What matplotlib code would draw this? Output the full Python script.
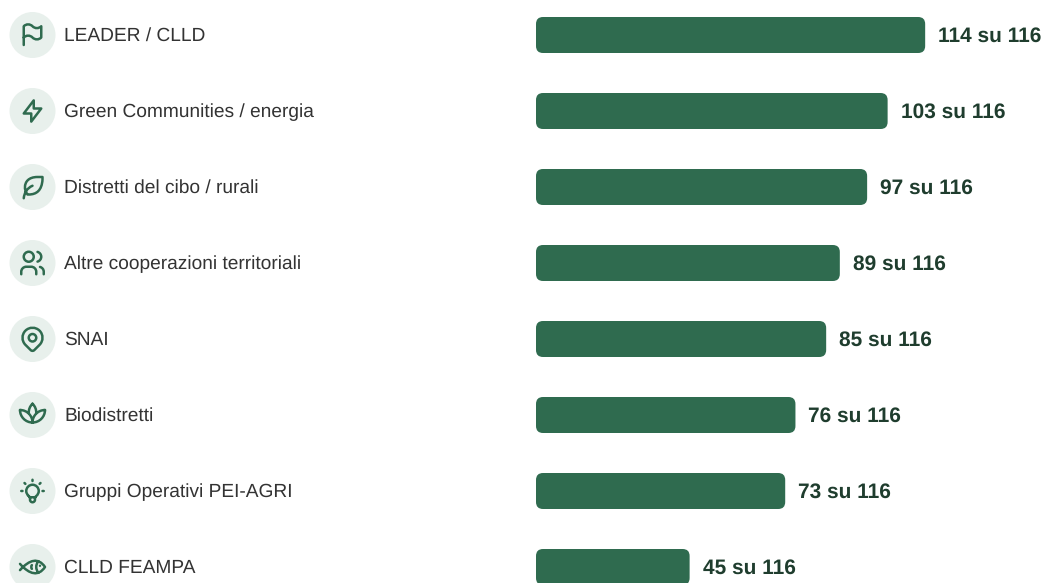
import re
import matplotlib
matplotlib.use("Agg")
import matplotlib.pyplot as plt
from matplotlib.patches import Circle, FancyBboxPatch, PathPatch
from matplotlib.path import Path
from matplotlib.transforms import Affine2D

plt.rcParams["font.family"] = ["Liberation Sans", "DejaVu Sans"]
plt.rcParams["text.hinting"] = "none"

labels = ["LEADER / CLLD", "Green Communities / energia", "Distretti del cibo / rurali",
          "Altre cooperazioni territoriali", "SNAI", "Biodistretti",
          "Gruppi Operativi PEI-AGRI", "CLLD FEAMPA"]
values = [114, 103, 97, 89, 85, 76, 73, 45]
total = 116

GREEN = "#2f6b4f"
PALE = "#e8f0ec"

W, H = 1043, 583
ROW0, STEP = 35, 76
PX = 72 / 100  # pixels to points
ICON_SCALE = 1.25

# icons as svg-like strings on a 24 box (M, L, C, Z only)
icons = [
    "M5 5 C7 3 10 3 12 5 C14 7 17 7 19 5 L19 14 C17 16 14 16 12 14 C10 12 7 12 5 14 L5 5 Z M5 20 L5 14",
    "M13 3.5 L13 10 L19 10 L11 20.5 L11 14 L5 14 L13 3.5 Z",
    "M5 21 C5.5 16.5 7.5 13 12 11 "
    "M9 18 C15.218 18 19.5 14.712 20 6 L20 4 L15.986 4 C8.786 4 6 8 5.986 12 C5.986 14 5.986 15 7.986 18 L9 18 Z",
    "M3 21 L3 19 C3 16.8 4.8 15 7 15 L11 15 C13.2 15 15 16.8 15 19 L15 21 "
    "M9 3 C11.2 3 13 4.8 13 7 C13 9.2 11.2 11 9 11 C6.8 11 5 9.2 5 7 C5 4.8 6.8 3 9 3 Z "
    "M21 21 L21 19 C21 17.2 19.8 15.6 18 15.15 M16 3.13 C17.8 3.6 19 5.2 19 7 C19 8.8 17.8 10.4 16 10.88",
    "M17.657 16.657 L13.414 20.9 C12.63 21.68 11.37 21.68 10.587 20.9 L6.343 16.657 "
    "C3.22 13.53 3.22 8.47 6.343 5.343 C9.47 2.22 14.53 2.22 17.657 5.343 C20.78 8.47 20.78 13.53 17.657 16.657 Z "
    "M15 11 C15 12.66 13.66 14 12 14 C10.34 14 9 12.66 9 11 C9 9.34 10.34 8 12 8 C13.66 8 15 9.34 15 11 Z",
    "M2 8 C2 13.52 6.48 18 12 18 C17.52 18 22 13.52 22 8 M12 18 C12 12.48 16.48 8 22 8 "
    "M2 8 C7.52 8 12 12.48 12 18 M12 3 C14.1 5 15.15 7.7 14.99 10.5 M9.01 10.5 C8.85 7.7 9.9 5 12 3",
    "M3 12 L4 12 M12 3 L12 4 M20 12 L21 12 M5.6 5.6 L6.3 6.3 M18.4 5.6 L17.7 6.3 "
    "M9 16 C7.8 15.1 7 13.6 7 12 C7 9.24 9.24 7 12 7 C14.76 7 17 9.24 17 12 C17 13.6 16.2 15.1 15 16 "
    "C14 16.8 13.8 18 14 19 C14 20.1 13.1 21 12 21 C10.9 21 10 20.1 10 19 C10.2 18 10 16.8 9 16 "
    "M9.7 17 L14.3 17",
    "M16.69 7.44 C15.6 8.66 15 10.25 15 12 C15 13.75 15.64 15.35 16.7 16.57 "
    "M2 9.5 C9.7 18.15 16.75 19.77 22 12 C16.75 4.24 9.7 5.86 2 14.5 "
    "M18 11 L18 11.01 M11.5 10.5 C10.83 11.5 10.83 12.5 11.5 13.5",
]


def svg_path(s):
    verts, codes = [], []
    for cmd, args in re.findall(r"([MLCZ])([^MLCZ]*)", s):
        nums = [float(n) for n in args.split()]
        pts = list(zip(nums[::2], nums[1::2]))
        if cmd == "M":
            verts += pts
            codes += [Path.MOVETO]
        elif cmd == "L":
            verts += pts
            codes += [Path.LINETO]
        elif cmd == "C":
            verts += pts
            codes += [Path.CURVE4] * 3
        else:
            verts.append(verts[-1])
            codes.append(Path.CLOSEPOLY)
    return Path(verts, codes)


fig = plt.figure(figsize=(W / 100, H / 100), dpi=100)

# bars: x is the count, y is the row number
ax = fig.add_axes([536 / W, 0, 396 / W, 1])
ax.set_xlim(0, total)
ax.set_ylim((H - ROW0) / STEP, -ROW0 / STEP)
ax.axis("off")

px_per_x = 396 / total
for i, (name, v) in enumerate(zip(labels, values)):
    bar = FancyBboxPatch((0, i - 18 / STEP), v, 36 / STEP,
                         boxstyle=f"round,pad=0,rounding_size={7 / px_per_x}",
                         mutation_aspect=px_per_x / STEP,
                         fc=GREEN, ec="none", clip_on=False)
    ax.add_patch(bar)
    ax.annotate(f"{v} su {total}", xy=(v, i), xytext=(13 * PX, -0.7), textcoords="offset points",
                ha="left", va="center", fontsize=15.0, fontweight="bold", color="#1f3d2e",
                annotation_clip=False)
    ax.annotate(name, xy=(0, i), xytext=(-472 * PX, -0.7), textcoords="offset points",
                ha="left", va="center", fontsize=13.8, color="#333333",
                annotation_clip=False)

# icon layer in plain pixels
ov = fig.add_axes([0, 0, 1, 1])
ov.set_xlim(0, W)
ov.set_ylim(H, 0)
ov.axis("off")
ov.patch.set_alpha(0)

for i, d in enumerate(icons):
    cy = ROW0 + STEP * i
    ov.add_patch(Circle((32.5, cy), 23, fc=PALE, ec="none"))
    tr = Affine2D().translate(-12, -12).scale(ICON_SCALE).translate(32.5, cy)
    ov.add_patch(PathPatch(svg_path(d).transformed(tr), fc="none", ec=GREEN, lw=1.8,
                           capstyle="round", joinstyle="round"))

fig.savefig("out.png", dpi=100)
